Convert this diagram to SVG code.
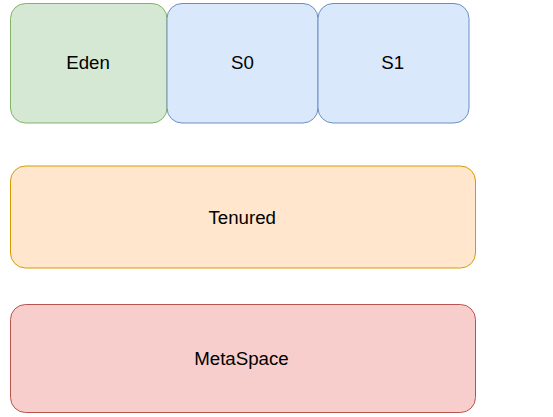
<svg xmlns="http://www.w3.org/2000/svg" width="553" height="417" viewBox="0 0 553 417">
<style>
rect{stroke-width:1}
text{font-family:"Liberation Sans",Arial,sans-serif;font-size:18.7px;fill:#000;text-anchor:middle}
.g{fill:#d5e8d4;stroke:#82b366}
.b{fill:#dae8fc;stroke:#6c8ebf}
.o{fill:#ffe6cc;stroke:#d79b00}
.r{fill:#f8cecc;stroke:#b85450}
</style>
<rect width="553" height="417" fill="#fff"/>
<g id="eden"><rect class="g" x="10.5" y="3.5" width="156.5" height="119.5" rx="15" ry="15"/><text x="88" y="69">Eden</text></g>
<g id="s0"><rect class="b" x="167" y="3.5" width="151" height="119.5" rx="15" ry="15"/><text x="242.5" y="69">S0</text></g>
<g id="s1"><rect class="b" x="318" y="3.5" width="151" height="119.5" rx="15" ry="15"/><text x="392.8" y="69">S1</text></g>
<g id="tenured"><rect class="o" x="10.5" y="166" width="465" height="102" rx="15" ry="15"/><text x="242.2" y="224">Tenured</text></g>
<g id="metaspace"><rect class="r" x="10.5" y="304.5" width="465" height="108" rx="15" ry="15"/><text x="241.5" y="364.5">MetaSpace</text></g>
<g id="connectors"/>
</svg>
